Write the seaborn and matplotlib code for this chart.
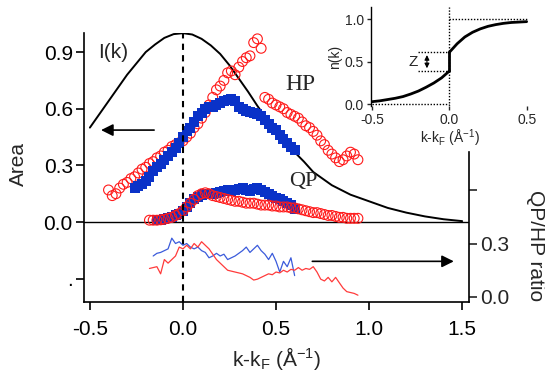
import matplotlib
matplotlib.use("Agg")
import matplotlib.pyplot as plt
import numpy as np
import seaborn as sns

# --- data ---
ik_x = [-0.5, -0.45, -0.4, -0.35, -0.3, -0.25, -0.2, -0.15, -0.1, -0.05, 0.0,
        0.05, 0.1, 0.15, 0.2, 0.25, 0.3, 0.35, 0.4, 0.45, 0.5, 0.55, 0.6, 0.65,
        0.7, 0.8, 0.9, 1.0, 1.1, 1.2, 1.3, 1.4, 1.5]
ik_y = [0.50, 0.57, 0.64, 0.71, 0.78, 0.84, 0.90, 0.94, 0.975, 0.995, 1.0,
        0.993, 0.97, 0.935, 0.89, 0.83, 0.76, 0.69, 0.615, 0.545, 0.48, 0.42, 0.37, 0.32,
        0.265, 0.195, 0.145, 0.11, 0.075, 0.05, 0.03, 0.015, 0.005]

hp_red_x = [-0.40, -0.38, -0.36, -0.34, -0.32, -0.30, -0.28, -0.26, -0.24, -0.22,
            -0.20, -0.18, -0.16, -0.14, -0.12, -0.10, -0.08, -0.06, -0.04, -0.02,
            0.00, 0.02, 0.04, 0.06, 0.08, 0.10, 0.12, 0.14, 0.16, 0.18,
            0.20, 0.22, 0.24, 0.26, 0.28, 0.30, 0.32, 0.34, 0.36, 0.38,
            0.40, 0.42, 0.44, 0.46, 0.48, 0.50, 0.52, 0.54, 0.56, 0.58,
            0.60, 0.62, 0.64, 0.66, 0.68, 0.70, 0.72, 0.74, 0.76, 0.78,
            0.80, 0.82, 0.84, 0.86, 0.88, 0.90, 0.92, 0.94]
hp_red_y = [0.17, 0.14, 0.15, 0.18, 0.20, 0.21, 0.23, 0.24, 0.26, 0.28,
            0.29, 0.31, 0.32, 0.34, 0.35, 0.37, 0.38, 0.40, 0.41, 0.42,
            0.43, 0.45, 0.47, 0.50, 0.52, 0.55, 0.58, 0.62, 0.66, 0.70,
            0.72, 0.75, 0.79, 0.80, 0.78, 0.82, 0.85, 0.87, 0.88, 0.95,
            0.97, 0.92, 0.66, 0.65, 0.63, 0.62, 0.61, 0.60, 0.58, 0.57,
            0.56, 0.55, 0.53, 0.51, 0.50, 0.48, 0.46, 0.43, 0.41, 0.38,
            0.36, 0.34, 0.32, 0.33, 0.35, 0.37, 0.36, 0.33]

hp_blue_x = [-0.26, -0.24, -0.22, -0.20, -0.18, -0.16, -0.14, -0.12, -0.10, -0.08,
             -0.06, -0.04, -0.02, 0.00, 0.02, 0.04, 0.06, 0.08, 0.10, 0.12,
             0.14, 0.16, 0.18, 0.20, 0.22, 0.24, 0.26, 0.28, 0.30, 0.32,
             0.34, 0.36, 0.38, 0.40, 0.42, 0.44, 0.46, 0.48, 0.50, 0.52,
             0.54, 0.56, 0.58, 0.60]
hp_blue_y = [0.18, 0.19, 0.20, 0.22, 0.24, 0.27, 0.29, 0.31, 0.33, 0.35,
             0.37, 0.39, 0.42, 0.45, 0.48, 0.50, 0.53, 0.56, 0.58, 0.60,
             0.61, 0.61, 0.62, 0.63, 0.64, 0.645, 0.65, 0.64, 0.61, 0.60,
             0.59, 0.585, 0.58, 0.57, 0.56, 0.54, 0.52, 0.50, 0.49, 0.46,
             0.44, 0.42, 0.40, 0.38]

qp_red_x = [-0.18, -0.16, -0.14, -0.12, -0.10, -0.08, -0.06, -0.04, -0.02, 0.00,
            0.02, 0.04, 0.06, 0.08, 0.10, 0.12, 0.14, 0.16, 0.18, 0.20,
            0.22, 0.24, 0.26, 0.28, 0.30, 0.32, 0.34, 0.36, 0.38, 0.40,
            0.42, 0.44, 0.46, 0.48, 0.50, 0.52, 0.54, 0.56, 0.58, 0.60,
            0.62, 0.64, 0.66, 0.68, 0.70, 0.72, 0.74, 0.76, 0.78, 0.80,
            0.82, 0.84, 0.86, 0.88, 0.90, 0.92, 0.94]
qp_red_y = [0.01, 0.01, 0.01, 0.012, 0.015, 0.02, 0.025, 0.035, 0.045, 0.06,
            0.08, 0.10, 0.12, 0.14, 0.15, 0.155, 0.15, 0.14, 0.135, 0.13,
            0.125, 0.12, 0.115, 0.11, 0.11, 0.105, 0.10, 0.10, 0.10, 0.095,
            0.09, 0.09, 0.09, 0.085, 0.085, 0.08, 0.08, 0.08, 0.075, 0.075,
            0.07, 0.065, 0.06, 0.055, 0.05, 0.05, 0.045, 0.04, 0.035, 0.035,
            0.03, 0.025, 0.025, 0.02, 0.02, 0.02, 0.02]

qp_blue_x = [-0.14, -0.12, -0.10, -0.08, -0.06, -0.04, -0.02, 0.00, 0.02, 0.04,
             0.06, 0.08, 0.10, 0.12, 0.14, 0.16, 0.18, 0.20, 0.22, 0.24,
             0.26, 0.28, 0.30, 0.32, 0.34, 0.36, 0.38, 0.40, 0.42, 0.44,
             0.46, 0.48, 0.50, 0.52, 0.54, 0.56, 0.58, 0.60]
qp_blue_y = [0.01, 0.012, 0.015, 0.02, 0.025, 0.035, 0.045, 0.06, 0.08, 0.10,
             0.12, 0.135, 0.145, 0.15, 0.15, 0.15, 0.155, 0.16, 0.165, 0.17,
             0.165, 0.17, 0.175, 0.18, 0.17, 0.165, 0.175, 0.18, 0.17, 0.16,
             0.15, 0.14, 0.13, 0.12, 0.11, 0.10, 0.09, 0.07]

ratio_blue_x = [-0.16, -0.14, -0.12, -0.10, -0.08, -0.06, -0.04, -0.02, 0.00, 0.02,
                0.04, 0.06, 0.08, 0.10, 0.12, 0.14, 0.16, 0.18, 0.20, 0.22,
                0.24, 0.26, 0.28, 0.30, 0.32, 0.34, 0.36, 0.38, 0.40, 0.42,
                0.44, 0.46, 0.48, 0.50, 0.52, 0.54, 0.56, 0.58, 0.60]
ratio_blue_y = [0.23, 0.245, 0.25, 0.26, 0.27, 0.33, 0.30, 0.31, 0.29, 0.30,
                0.28, 0.27, 0.28, 0.26, 0.25, 0.22, 0.23, 0.245, 0.23, 0.24,
                0.21, 0.22, 0.23, 0.245, 0.26, 0.28, 0.25, 0.27, 0.29, 0.26,
                0.24, 0.21, 0.245, 0.20, 0.14, 0.20, 0.17, 0.22, 0.12]

ratio_red_x = [-0.18, -0.16, -0.14, -0.12, -0.10, -0.08, -0.06, -0.04, -0.02, 0.00,
               0.02, 0.04, 0.06, 0.08, 0.10, 0.12, 0.14, 0.16, 0.18, 0.20,
               0.22, 0.24, 0.26, 0.28, 0.30, 0.32, 0.34, 0.36, 0.38, 0.40,
               0.42, 0.44, 0.46, 0.48, 0.50, 0.52, 0.54, 0.56, 0.58, 0.60,
               0.62, 0.64, 0.66, 0.68, 0.70, 0.72, 0.74, 0.76, 0.78, 0.80,
               0.82, 0.84, 0.86, 0.88, 0.90, 0.92, 0.94]
ratio_red_y = [0.16, 0.165, 0.17, 0.13, 0.21, 0.19, 0.21, 0.23, 0.28, 0.27,
               0.29, 0.27, 0.30, 0.28, 0.31, 0.29, 0.27, 0.24, 0.21, 0.19,
               0.17, 0.15, 0.145, 0.14, 0.135, 0.13, 0.12, 0.11, 0.095, 0.10,
               0.11, 0.12, 0.13, 0.125, 0.14, 0.135, 0.15, 0.14, 0.155, 0.15,
               0.165, 0.15, 0.16, 0.155, 0.17, 0.14, 0.10, 0.09, 0.11, 0.085,
               0.11, 0.08, 0.05, 0.03, 0.025, 0.02, 0.01]

# inset: n(k), split at the jump
nk_left_x = [-0.5, -0.45, -0.4, -0.35, -0.3, -0.25, -0.2, -0.15, -0.1, -0.05, 0.0]
nk_left_y = [0.03, 0.04, 0.055, 0.07, 0.09, 0.12, 0.155, 0.20, 0.25, 0.31, 0.39]
nk_right_x = [0.0, 0.05, 0.1, 0.15, 0.2, 0.25, 0.3, 0.35, 0.4, 0.45, 0.5]
nk_right_y = [0.61, 0.71, 0.79, 0.845, 0.885, 0.915, 0.935, 0.95, 0.96, 0.965, 0.97]

main_xticks = [-0.5, 0.0, 0.5, 1.0, 1.5]
left_yticks = [-0.3, 0.0, 0.3, 0.6, 0.9]
left_yticklabels = ['.', '0.0', '0.3', '0.6', '0.9']
right_yticks = [0.0, 0.3, 0.6]
right_yticklabels = ['0.0', '0.3', '']

sns.set_style("ticks")
plt.rcParams['font.family'] = ['Liberation Sans', 'DejaVu Sans']
plt.rcParams['mathtext.fontset'] = 'custom'
plt.rcParams['mathtext.rm'] = 'Liberation Sans'
plt.rcParams['mathtext.it'] = 'Liberation Sans'

RED = '#ff1a1a'
BLUE = '#0a32c8'

fig = plt.figure(figsize=(5.45, 3.77), dpi=100)
ax = fig.add_axes([0.154, 0.199, 0.707, 0.713])
ax2 = ax.twinx()

# I(k)
sns.lineplot(x=ik_x, y=ik_y, ax=ax, color='black', lw=1.4, sort=False, estimator=None)

# HP and QP areas
sns.scatterplot(x=hp_red_x, y=hp_red_y, ax=ax, marker='o', s=50, facecolor='none',
                edgecolor=RED, linewidth=0.8, zorder=3)
sns.scatterplot(x=hp_blue_x, y=hp_blue_y, ax=ax, marker='s', s=45, color=BLUE,
                edgecolor=BLUE, linewidth=0, zorder=4)
sns.scatterplot(x=qp_red_x, y=qp_red_y, ax=ax, marker='o', s=50, facecolor='none',
                edgecolor=RED, linewidth=0.8, zorder=4)
sns.scatterplot(x=qp_blue_x, y=qp_blue_y, ax=ax, marker='s', s=45, color=BLUE,
                edgecolor=BLUE, linewidth=0, zorder=3)

ax.axhline(0, color='black', lw=1.0, zorder=2)
ax.plot([0, 0], [-0.423, 1.0], color='black', lw=1.5, ls=(0, (3, 2.5)), zorder=5)

ax.set_xlim(-0.532, 1.538)
ax.set_ylim(-0.423, 1.0)
ax.set_xticks(main_xticks)
ax.set_xticklabels(['-0.5', '0.0', '0.5', '1.0', '1.5'])
ax.set_yticks(left_yticks)
ax.set_yticklabels(left_yticklabels)
ax.tick_params(axis='both', labelsize=15, length=6, width=1.2, direction='out', colors='black')
ax.tick_params(axis='x', pad=7)
ax.tick_params(axis='y', pad=2)
for side in ['top', 'right']:
    ax.spines[side].set_visible(False)
for side in ['left', 'bottom']:
    ax.spines[side].set_linewidth(1.2)
    ax.spines[side].set_color('black')
ax.set_xlabel('k-k$_\\mathrm{F}$ (Å$^{\\mathrm{-1}}$)', fontsize=15, labelpad=4)
fig.text(18 / 545, 1 - 164 / 377, 'Area', fontsize=15, rotation=90, ha='center', va='center')

# ratio on right axis
sns.lineplot(x=ratio_blue_x, y=ratio_blue_y, ax=ax2, color='#3b5bdb', lw=0.9,
             sort=False, estimator=None)
sns.lineplot(x=ratio_red_x, y=ratio_red_y, ax=ax2, color='#ff3b3b', lw=0.9,
             sort=False, estimator=None)
ax2.set_ylim(-0.028, 1.48)
ax2.set_yticks(right_yticks)
ax2.set_yticklabels(right_yticklabels)
ax2.tick_params(axis='y', labelsize=15, length=6, width=1.2, direction='out', pad=2)
for side in ['top', 'left', 'bottom']:
    ax2.spines[side].set_visible(False)
ax2.spines['right'].set_bounds(-0.028, 0.813)
ax2.spines['right'].set_linewidth(1.2)
ax2.spines['right'].set_color('black')
ax2.set_ylabel('')
fig.text(535 / 545, 1 - 246 / 377, 'QP/HP ratio', fontsize=15, rotation=-90,
         ha='center', va='center')

# arrows and labels
ax.annotate('', xy=(-0.455, 0.487), xytext=(-0.14, 0.487),
            arrowprops=dict(arrowstyle='-|>', color='black', lw=1.2, mutation_scale=18))
ax2.annotate('', xy=(1.47, 0.20), xytext=(0.68, 0.20),
             arrowprops=dict(arrowstyle='-|>', color='black', lw=1.2, mutation_scale=18))
ax.text(-0.375, 0.90, 'I(k)', fontsize=15, ha='center', va='center')
ax.text(0.63, 0.73, 'HP', fontsize=17, ha='center', va='center', family='Liberation Serif')
ax.text(0.645, 0.215, 'QP', fontsize=16, ha='center', va='center', family='Liberation Serif')

# inset n(k)
ins = fig.add_axes([0.681, 0.719, 0.291, 0.262])
sns.lineplot(x=nk_left_x, y=nk_left_y, ax=ins, color='black', lw=2.0, sort=False, estimator=None)
sns.lineplot(x=nk_right_x, y=nk_right_y, ax=ins, color='black', lw=2.0, sort=False, estimator=None)
ins.plot([0, 0], [0.39, 0.61], color='black', lw=2.0)
dot = dict(color='black', lw=1.0, ls=(0, (1, 1.2)))
ins.plot([0, 0], [-0.02, 1.14], **dot)
ins.plot([0, 0.5], [1.0, 1.0], **dot)
ins.plot([-0.5, 0], [0.0, 0.0], **dot)
ins.plot([-0.2, 0], [0.61, 0.61], **dot)
ins.plot([-0.2, 0], [0.39, 0.39], **dot)
ins.annotate('', xy=(-0.145, 0.61), xytext=(-0.145, 0.39),
             arrowprops=dict(arrowstyle='<|-|>', color='black', lw=0.8, mutation_scale=7))
ins.text(-0.235, 0.5, 'Z', fontsize=11, ha='center', va='center')
ins.set_xlim(-0.506, 0.52)
ins.set_ylim(-0.02, 1.14)
ins.set_xticks([-0.5, 0.0, 0.5])
ins.set_xticklabels(['-0.5', '0.0', '0.5'])
ins.set_yticks([0.0, 0.5, 1.0])
ins.set_yticklabels(['0.0', '0.5', '1.0'])
ins.tick_params(axis='both', labelsize=10, length=3, width=1.0, direction='out', pad=2)
ins.patch.set_alpha(0)
for side in ['top', 'right', 'bottom']:
    ins.spines[side].set_visible(False)
ins.spines['left'].set_linewidth(1.0)
ins.spines['left'].set_color('black')
ins.set_ylabel('n(k)', fontsize=10, labelpad=2)
ins.set_xlabel('k-k$_\\mathrm{F}$ (Å$^{\\mathrm{-1}}$)', fontsize=10, labelpad=1)

fig.savefig('out.png', dpi=100)
